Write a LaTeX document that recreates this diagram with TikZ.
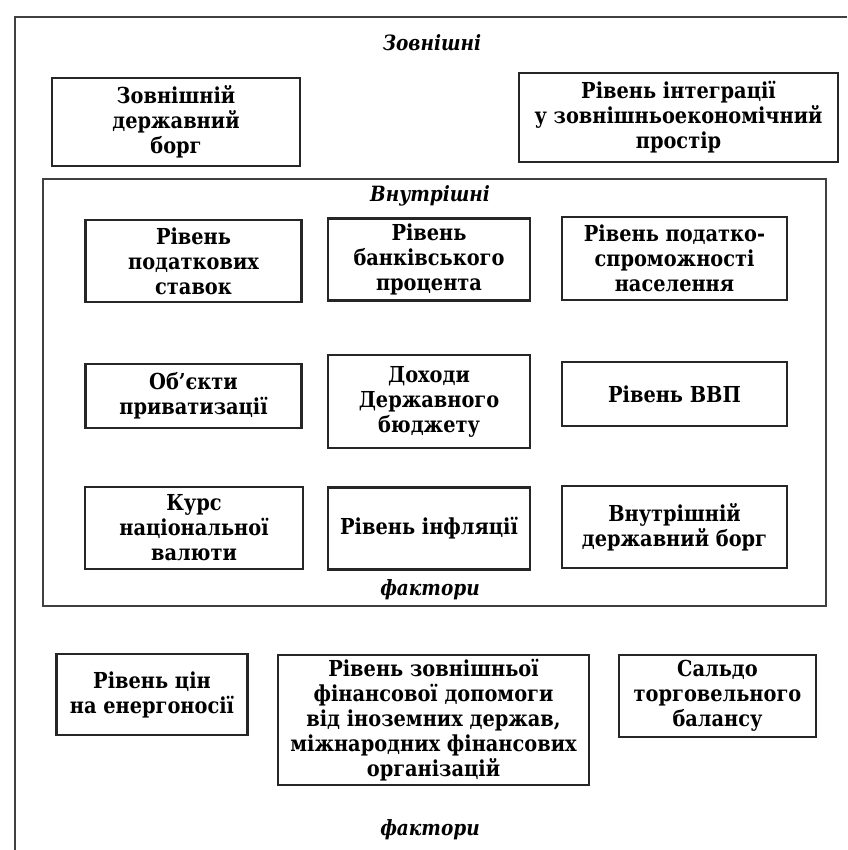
\documentclass[tikz,border=0pt]{standalone}
\usepackage{fontspec}
\setmainfont{DejaVu Serif}[FakeStretch=0.88]
\begin{document}
\begin{tikzpicture}[x=0.5pt,y=-0.5pt,
  box/.style={draw=black!85, line width=1.3pt, rectangle, inner sep=0pt, align=center,
    font=\fontsize{11}{12.5}\selectfont\bfseries},
  framebox/.style={draw=black!75, line width=1pt, rectangle, inner sep=0pt},
  lbl/.style={font=\fontsize{10.5}{12}\selectfont\bfseries\itshape, inner sep=0pt}]
\useasboundingbox (0,0) rectangle (847,850);
% outer frame (cut off at right and bottom)
\coordinate (otr) at (847,17);
\coordinate (otl) at (15,17);
\coordinate (obl) at (15,850);
\draw[black!75, line width=1pt] (otr) -- (otl) -- (obl);
\node[lbl] (ext) at (432,43) {Зовнішні};
% external top boxes
\node[box, minimum width=124pt, minimum height=44pt] (a) at (176,122) {Зовнішній\\державний\\борг};
\node[box, minimum width=159.5pt, minimum height=44.5pt] (b) at (678.5,117.5) {Рівень інтеграції\\у зовнішньоекономічний\\простір};
% inner frame
\node[framebox, minimum width=391.5pt, minimum height=213.5pt] (inner) at (434.5,392.5) {};
\node[lbl] (int) at (430,196) {Внутрішні};
% row 1
\node[box, minimum width=108pt, minimum height=41pt] (r11) at (193.5,261) {Рівень\\податкових\\ставок};
\node[box, minimum width=101pt, minimum height=41pt] (r12) at (429,259.5) {Рівень\\банківського\\процента};
\node[box, minimum width=112.5pt, minimum height=41.5pt] (r13) at (674.5,258.5) {Рівень податко-\\спроможності\\населення};
% row 2
\node[box, minimum width=108pt, minimum height=32pt] (r21) at (193.5,396) {Об’єкти\\приватизації};
\node[box, minimum width=101pt, minimum height=46.5pt] (r22) at (429,401.5) {Доходи\\Державного\\бюджету};
\node[box, minimum width=112.5pt, minimum height=32pt] (r23) at (674.5,394) {Рівень ВВП};
% row 3
\node[box, minimum width=109pt, minimum height=41pt] (r31) at (194,528) {Курс\\національної\\валюти};
\node[box, minimum width=101pt, minimum height=41pt] (r32) at (429,528.5) {Рівень інфляції};
\node[box, minimum width=112.5pt, minimum height=41pt] (r33) at (674.5,527) {Внутрішній\\державний борг};
\node[lbl] (f1) at (430,590) {фактори};
% bottom external boxes
\node[box, minimum width=95.5pt, minimum height=40.5pt] (c1) at (152,694.5) {Рівень цін\\на енергоносії};
\node[box, minimum width=155.5pt, minimum height=65pt] (c2) at (433.5,720) {Рівень зовнішньої\\фінансової допомоги\\від іноземних держав,\\міжнародних фінансових\\організацій};
\node[box, minimum width=98.5pt, minimum height=41pt] (c3) at (717.5,696) {Сальдо\\торговельного\\балансу};
\node[lbl] (f2) at (430,830) {фактори};
\end{tikzpicture}
\end{document}
